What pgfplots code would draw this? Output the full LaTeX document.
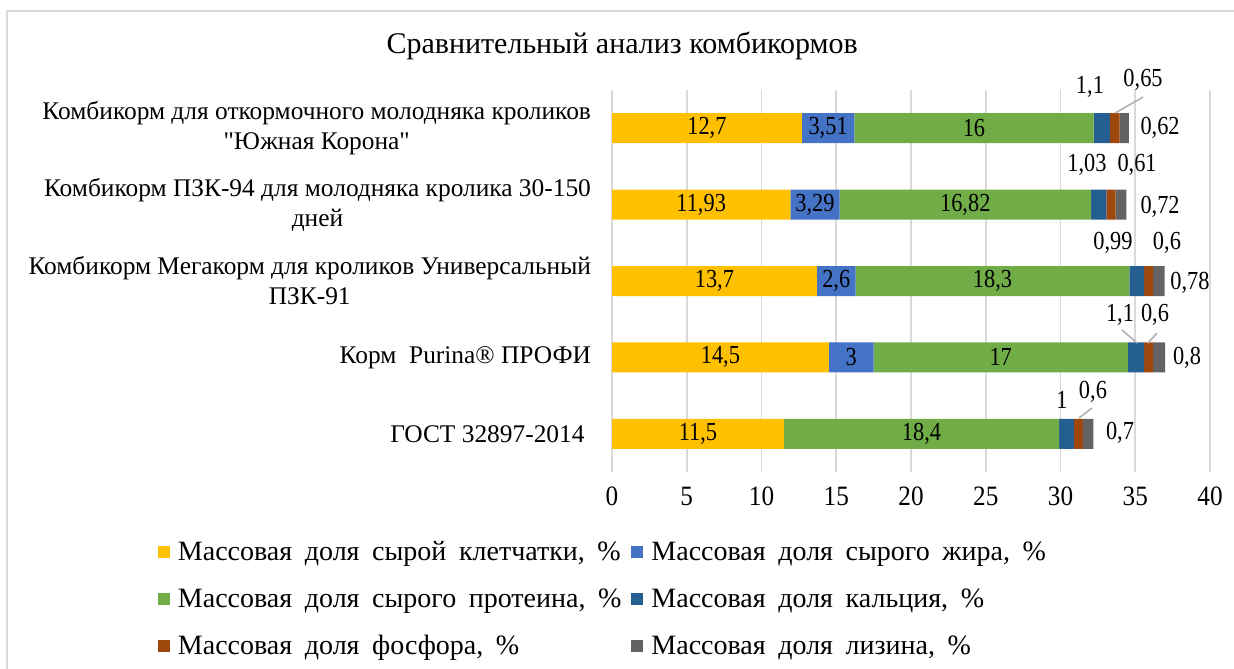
\documentclass[border=0pt]{standalone}
\usepackage{fontspec}
\setmainfont{Liberation Serif}[Ligatures=TeXOff]
\newfontfamily\lblfont{Liberation Serif}[FakeStretch=0.86, Ligatures=TeXOff]
\newfontfamily\tickfont{Liberation Serif}[FakeStretch=0.9, Ligatures=TeXOff]
\usepackage{pgfplots}
\pgfplotsset{compat=1.18}
\usepackage{pgfplotstable}

\newcommand\legfont{\fontsize{14}{15}\selectfont\spaceskip=6.3pt plus 1pt\relax}

\definecolor{cFib}{HTML}{FFC000}
\definecolor{cFat}{HTML}{4472C4}
\definecolor{cPro}{HTML}{70AD47}
\definecolor{cCa}{HTML}{255E91}
\definecolor{cP}{HTML}{9E480E}
\definecolor{cLys}{HTML}{636363}
\definecolor{gridc}{HTML}{D9D9D9}

\pgfplotstableread{
y fiber fat protein ca p lys
0 11.5 0 18.4 1 0.6 0.7
1 14.5 3 17 1.1 0.6 0.8
2 13.7 2.6 18.3 0.99 0.6 0.78
3 11.93 3.29 16.82 1.03 0.61 0.72
4 12.7 3.51 16 1.1 0.65 0.62
}\datatable

\pgfplotstableread{
x y label
6.35 4 12,7
14.455 4 3,51
24.21 4 16
5.965 3 11,93
13.575 3 3,29
23.63 3 16,82
6.85 2 13,7
15.0 2 2,6
25.45 2 18,3
7.25 1 14,5
16.0 1 3
26.0 1 17
5.75 0 11,5
20.7 0 18,4
31.97 4.539 1,1
35.52 4.631 0,65
36.66 4.0 0,62
31.77 3.518 1,03
35.12 3.518 0,61
36.66 2.97 0,72
33.51 2.497 0,99
37.12 2.497 0,6
38.66 1.974 0,78
33.98 1.555 1,1
36.32 1.555 0,6
38.46 0.992 0,8
30.10 0.442 1
32.17 0.547 0,6
33.98 0.01 0,7
}\labeltable

\pgfplotsset{
  base/.style={
    scale only axis, width=299pt, height=191pt,
    xmin=0, xmax=40, ymin=-0.5, ymax=4.5,
    at={(306pt,98pt)}, anchor=south west,
  },
}

\begin{document}
\begin{tikzpicture}[font=\fontsize{14}{15}\selectfont]
\path[use as bounding box] (0,0) rectangle (617pt,334pt);
\draw[gridc, line width=0.8pt] (3.5pt,-5pt) -- (3.5pt,328.5pt) -- (620pt,328.5pt);
\begin{axis}[
  base,
  xbar stacked,
  bar width=15pt,
  axis line style={draw=none},
  major tick length=0pt,
  xtick={0,5,...,40},
  xmajorgrids,
  grid style={gridc, line width=0.8pt},
  ytick={0,1,2,3,4},
  yticklabels={
    {ГОСТ 32897-2014\ },
    {Корм\ \ Purina® ПРОФИ},
    {Комбикорм Мегакорм для кроликов Универсальный\\ПЗК-91},
    {Комбикорм ПЗК-94 для молодняка кролика 30-150\\дней},
    {Комбикорм для откормочного молодняка кроликов\\"Южная Корона"}
  },
  yticklabel style={align=center, xshift=-7pt, font=\fontsize{12.7}{15}\selectfont},
  xticklabel style={yshift=-4pt, font=\tickfont\fontsize{14}{15}\selectfont},
  /pgf/number format/assume math mode=true,
  title={Сравнительный анализ комбикормов},
  title style={at={(0.017,1.084)}, anchor=center, yshift=0pt, font=\fontsize{15}{17}\selectfont},
  legend columns=2,
  legend cell align=left,
  legend style={at={(-0.77,-0.162)}, anchor=north west, draw=none,
    font=\legfont,
    /tikz/every even column/.append style={column sep=1pt},
    row sep=9.5pt, nodes={inner sep=1.5pt, inner xsep=4pt}},
  legend image code/.code={\fill[#1, draw=none] (0pt,-3pt) rectangle (6pt,3pt);},
  clip=false,
]
\addplot[fill=cFib, draw=none] table[x=fiber, y=y] {\datatable};
\addlegendentry{Массовая доля сырой клетчатки, \%}
\addplot[fill=cFat, draw=none] table[x=fat, y=y] {\datatable};
\addlegendentry{Массовая доля сырого жира, \%}
\addplot[fill=cPro, draw=none] table[x=protein, y=y] {\datatable};
\addlegendentry{Массовая доля сырого протеина, \%}
\addplot[fill=cCa, draw=none] table[x=ca, y=y] {\datatable};
\addlegendentry{Массовая доля кальция, \%}
\addplot[fill=cP, draw=none] table[x=p, y=y] {\datatable};
\addlegendentry{Массовая доля фосфора, \%}
\addplot[fill=cLys, draw=none] table[x=lys, y=y] {\datatable};
\addlegendentry{Массовая доля лизина, \%}
\end{axis}
\begin{axis}[base, hide axis, clip=false]
\addplot[only marks, mark=none, nodes near coords, point meta=explicit symbolic,
  every node near coord/.style={anchor=center, inner sep=0pt, font=\lblfont\fontsize{13}{15}\selectfont}]
  table[x=x, y=y, meta=label] {\labeltable};
\addplot[gray!60, line width=0.8pt] coordinates {(35.52,4.408) (33.65,4.199)};
\addplot[gray!60, line width=0.8pt] coordinates {(34.11,1.359) (35.12,1.188)};
\addplot[gray!60, line width=0.8pt] coordinates {(36.45,1.319) (35.85,1.188)};
\addplot[gray!60, line width=0.8pt] coordinates {(32.11,0.338) (31.24,0.207)};
\end{axis}
\end{tikzpicture}
\end{document}
